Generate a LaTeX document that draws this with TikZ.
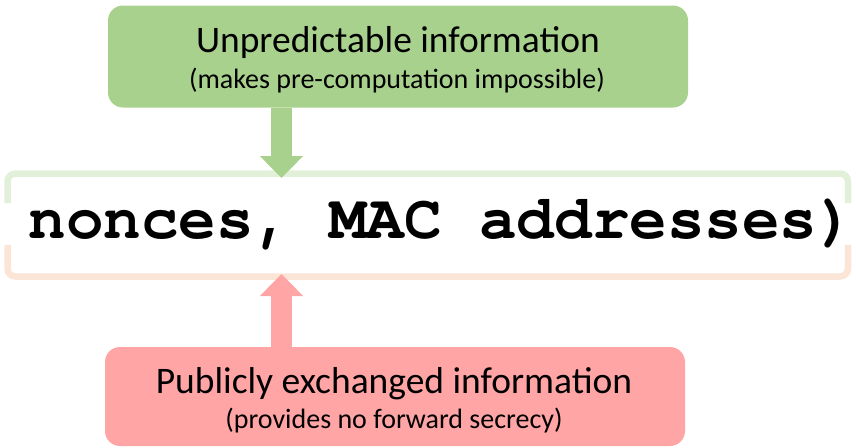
\documentclass[tikz,border=0pt]{standalone}
\usepackage{fontspec}
\setmainfont{Carlito}
\setmonofont{TeX Gyre Cursor}
\usetikzlibrary{arrows.meta}
\definecolor{boxgreen}{HTML}{A9D18E}
\definecolor{boxred}{HTML}{FFA5A5}
\definecolor{brgreen}{HTML}{E2F0D9}
\definecolor{brorange}{HTML}{FBE5D6}
\tikzset{
  infobox/.style={rounded corners=15pt, minimum width=580pt, inner sep=0pt},
  bigtxt/.style={anchor=base, inner sep=0pt, font=\fontsize{37.5}{42}\selectfont},
  smalltxt/.style={anchor=base, inner sep=0pt, font=\fontsize{28}{32}\selectfont},
  bracket/.style={line width=6.5pt, rounded corners=8pt},
  blockarrow/.style={line width=21pt, -{Triangle[width=42pt, length=22pt]}}
}
\begin{document}
\begin{tikzpicture}[x=1pt, y=-1pt]
\useasboundingbox (0,0) rectangle (856,447);
% brackets
\draw[bracket, brgreen] (7.5,203) -- (7.5,173.5) -- (848,173.5) -- (848,203);
\draw[bracket, brorange] (7.5,245) -- (7.5,276.5) -- (848,276.5) -- (848,245);
% boxes
\node[infobox, fill=boxgreen, minimum height=102pt] (gbox) at (398,56.5) {};
\node[infobox, fill=boxred, minimum height=99pt] (rbox) at (395,396.5) {};
% texts
\node[bigtxt] (g1) at (398,52) {Unpredictable information};
\node[smalltxt] (g2) at (397,88) {(makes pre-computation impossible)};
\node[bigtxt] (r1) at (394,393) {Publicly exchanged information};
\node[smalltxt] (r2) at (394,428) {(provides no forward secrecy)};
\node[anchor=base west, inner sep=0pt, font=\fontsize{62.6}{70}\selectfont\ttfamily\bfseries] (main) at (28.5,238) {nonces, MAC addresses)};
% arrows
\coordinate (gtip) at (281.5,178);
\coordinate (rtip) at (281.5,274);
\draw[blockarrow, boxgreen] (gbox.south -| gtip) -- (gtip);
\draw[blockarrow, boxred] (rbox.north -| rtip) -- (rtip);
\end{tikzpicture}
\end{document}
